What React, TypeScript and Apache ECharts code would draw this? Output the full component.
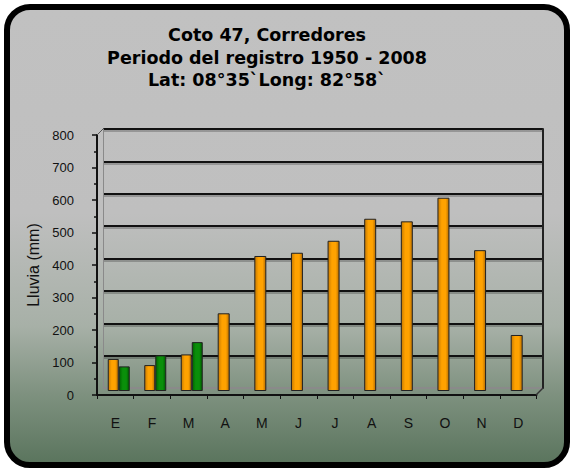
import React, { useEffect, useRef } from "react";
import * as echarts from "echarts";

const months = ["E", "F", "M", "A", "M", "J", "J", "A", "S", "O", "N", "D"];
const rainMean = [99, 80, 113, 240, 417, 427, 464, 532, 524, 597, 435, 173];
const rainGreen: (number | null)[] = [76, 110, 151, null, null, null, null, null, null, null, null, null];
const yTicks = [0, 100, 200, 300, 400, 500, 600, 700, 800];

const titleLines = [
  "Coto 47, Corredores",
  "Periodo del registro 1950 - 2008",
  "Lat: 08°35`Long: 82°58`",
];

const orangeGrad = {
  type: "linear", x: 0, y: 0, x2: 1, y2: 0,
  colorStops: [
    { offset: 0, color: "#c77a00" },
    { offset: 0.35, color: "#ffa200" },
    { offset: 0.7, color: "#ffa200" },
    { offset: 1, color: "#b86e00" },
  ],
};
const greenGrad = {
  type: "linear", x: 0, y: 0, x2: 1, y2: 0,
  colorStops: [
    { offset: 0, color: "#006400" },
    { offset: 0.35, color: "#0a8f0a" },
    { offset: 0.7, color: "#0a8f0a" },
    { offset: 1, color: "#005a00" },
  ],
};

export default function App() {
  const ref = useRef<HTMLDivElement>(null);
  useEffect(() => {
    if (!ref.current) return;
    const chart = echarts.init(ref.current, null, { renderer: "svg" });
    const single = rainMean.map((v, i) => (rainGreen[i] == null ? v : "-"));
    const paired = rainMean.map((v, i) => (rainGreen[i] != null ? v : "-"));
    const green = rainGreen.map((v) => (v == null ? "-" : v));
    const yMin = yTicks[0];
    const yMax = yTicks[yTicks.length - 1];
    const step = yTicks[1] - yTicks[0];
    const splitColors = yTicks.map((_, i) => (i === 0 ? "#8a8a8a" : "#111"));
    const shadowColors = yTicks.map((_, i) => (i === 0 ? "rgba(0,0,0,0)" : "rgba(0,0,0,0.22)"));

    chart.setOption({
      animation: false,
      title: {
        text: titleLines.join("\n"),
        left: 267,
        top: 24,
        padding: 0,
        textAlign: "center",
        textStyle: {
          fontFamily: "DejaVu Sans",
          fontWeight: "bold",
          fontSize: 17.5,
          lineHeight: 22.5,
          color: "#000",
        },
      },
      graphic: [
        {
          type: "line",
          z: 5,
          shape: { x1: 97, y1: 135, x2: 103, y2: 129 },
          style: { stroke: "#555", lineWidth: 1 },
        },
        {
          type: "line",
          z: 5,
          shape: { x1: 536, y1: 395, x2: 543, y2: 388 },
          style: { stroke: "#333", lineWidth: 1.5 },
        },
      ],
      grid: [
        { left: 97, right: 34.5, top: 135, bottom: 74 },
        { left: 103, right: 28, top: 129, bottom: 81 },
        { left: 95.5, right: 36, top: 132, bottom: 78 },
        { left: 100.5, right: 32.5, top: 132, bottom: 78 },
        { left: 104, right: 27, top: 130.5, bottom: 79.5 },
      ],
      xAxis: [
        {
          gridIndex: 0,
          type: "category",
          data: months,
          axisLine: { lineStyle: { color: "#111", width: 2 } },
          axisTick: { show: true, length: 4, lineStyle: { color: "#111" } },
          axisLabel: { color: "#111", fontSize: 14, fontFamily: "Liberation Sans", margin: 21 },
          splitLine: { show: false },
          z: 4,
        },
        { gridIndex: 1, type: "category", data: months, show: false },
        { gridIndex: 2, type: "category", data: months, show: false },
        { gridIndex: 3, type: "category", data: months, show: false },
        { gridIndex: 4, type: "category", data: months, show: false },
      ],
      yAxis: [
        {
          gridIndex: 0,
          type: "value",
          min: yMin,
          max: yMax,
          interval: step,
          name: "Lluvia (mm)",
          nameLocation: "middle",
          nameGap: 52,
          nameTextStyle: { fontSize: 16, fontFamily: "Liberation Sans", color: "#111" },
          axisLine: { show: true, lineStyle: { color: "#111", width: 2 } },
          axisTick: { show: true, length: 5, lineStyle: { color: "#111", width: 1.5 } },
          minorTick: { show: true, splitNumber: 2, length: 3, lineStyle: { color: "#111", width: 1.5 } },
          axisLabel: { color: "#111", fontSize: 13, fontFamily: "Liberation Sans", margin: 23 },
          splitLine: { show: false },
          z: 4,
        },
        {
          gridIndex: 1,
          type: "value",
          min: yMin,
          max: yMax,
          interval: step,
          axisLine: { show: true, lineStyle: { color: "#8a8a8a", width: 1 } },
          axisTick: { show: false },
          axisLabel: { show: false },
          splitLine: { show: true, lineStyle: { color: splitColors, width: 2 } },
          z: 1,
        },
        {
          gridIndex: 1,
          type: "value",
          position: "right",
          min: yMin,
          max: yMax,
          interval: step,
          axisLine: { show: true, lineStyle: { color: "#222", width: 2 } },
          axisTick: { show: false },
          axisLabel: { show: false },
          splitLine: { show: false },
          z: 1,
        },
        { gridIndex: 2, type: "value", min: yMin, max: yMax, interval: step, show: false, splitLine: { show: false } },
        { gridIndex: 3, type: "value", min: yMin, max: yMax, interval: step, show: false, splitLine: { show: false } },
        {
          gridIndex: 4,
          type: "value",
          min: yMin,
          max: yMax,
          interval: step,
          axisLine: { show: false },
          axisTick: { show: false },
          axisLabel: { show: false },
          splitLine: { show: true, lineStyle: { color: shadowColors, width: 3 } },
          z: 0,
        },
      ],
      series: [
        {
          type: "bar",
          name: "Promedio",
          xAxisIndex: 2,
          yAxisIndex: 3,
          data: single,
          barWidth: 12,
          itemStyle: { color: orangeGrad, borderColor: "#222", borderWidth: 1 },
          z: 3,
        },
        {
          type: "bar",
          name: "Promedio ",
          xAxisIndex: 3,
          yAxisIndex: 4,
          data: paired,
          barWidth: 11,
          barGap: "0%",
          itemStyle: { color: orangeGrad, borderColor: "#222", borderWidth: 1 },
          z: 3,
        },
        {
          type: "bar",
          name: "Serie 2",
          xAxisIndex: 3,
          yAxisIndex: 4,
          data: green,
          barWidth: 11,
          barGap: "0%",
          itemStyle: { color: greenGrad, borderColor: "#222", borderWidth: 1 },
          z: 3,
        },
      ],
    });
    return () => chart.dispose();
  }, []);

  return (
    <div style={{ position: "fixed", left: 0, top: 0, width: 571, height: 469, background: "#fff" }}>
      <div
        style={{
          position: "absolute",
          left: 4,
          top: 4,
          width: 566,
          height: 464,
          boxSizing: "border-box",
          border: "6px solid #000",
          borderRadius: 26,
          background:
            "linear-gradient(to bottom, #c1c1c1 0%, #bfbfbf 45%, #a7b0a7 70%, #7e917f 85%, #5b755e 100%)",
        }}
      />
      <div ref={ref} style={{ position: "absolute", left: 0, top: 0, width: 571, height: 469 }} />
    </div>
  );
}
